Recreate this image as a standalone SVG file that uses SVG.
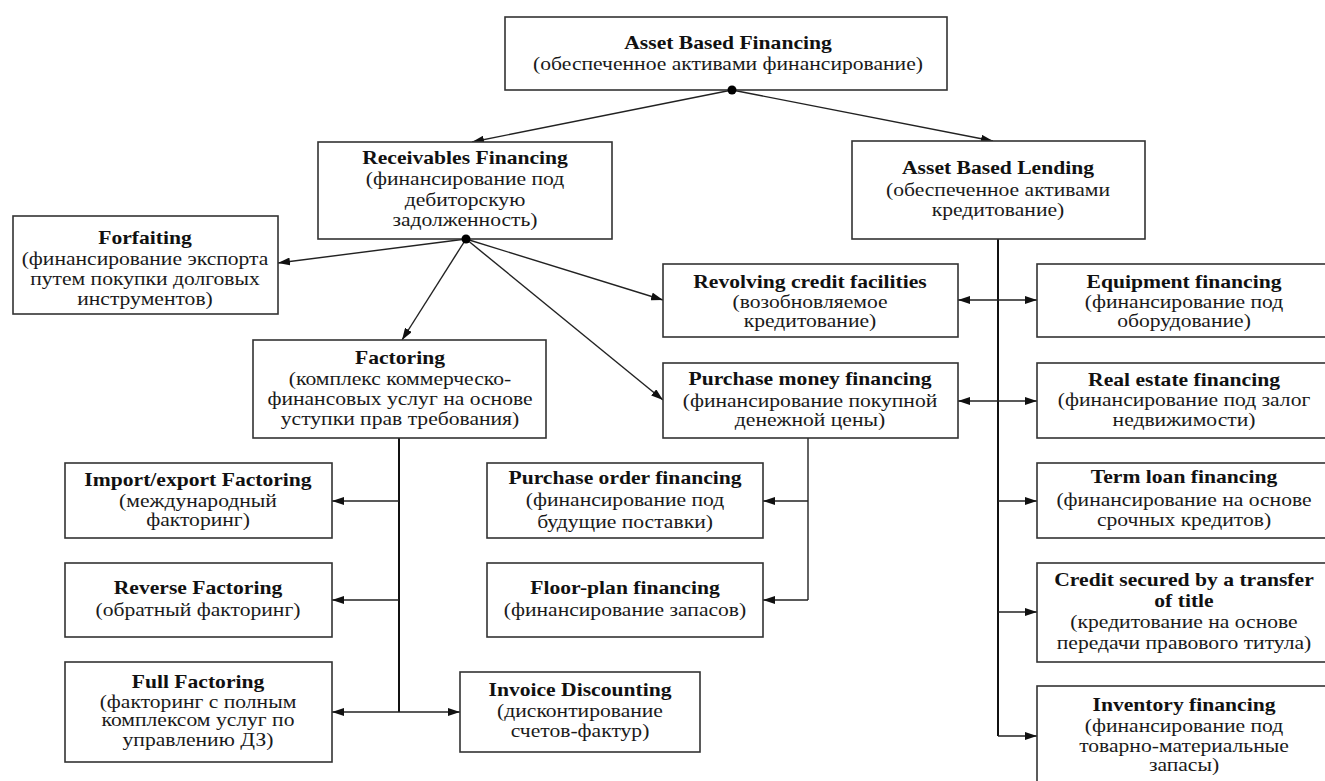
<svg xmlns="http://www.w3.org/2000/svg" width="1325" height="781" viewBox="0 0 1325 781">
<style>
.box{fill:#fff;stroke:#333;stroke-width:1.6}
.t{font-family:"Liberation Serif","Times New Roman",serif;font-size:18px;text-anchor:middle;fill:#1a1a1a}
.b{font-weight:bold;fill:#111}
.c{stroke:#222;stroke-width:1.4;fill:none}
.v{stroke:#111;stroke-width:2;fill:none}
</style>
<defs>
<marker id="ah" viewBox="0 0 12 8" refX="12" refY="4" markerWidth="12" markerHeight="8" orient="auto-start-reverse" markerUnits="userSpaceOnUse"><path d="M0,0 L12,4 L0,8 z" fill="#111"/></marker>
</defs>
<rect width="1325" height="781" fill="#fff"/>

<g id="connectors">
<line class="c" x1="732" y1="90" x2="472" y2="142" marker-end="url(#ah)"/>
<line class="c" x1="732" y1="90" x2="993" y2="141" marker-end="url(#ah)"/>
<line class="c" x1="466" y1="239" x2="278" y2="263" marker-end="url(#ah)"/>
<line class="c" x1="466" y1="239" x2="402" y2="340" marker-end="url(#ah)"/>
<line class="c" x1="466" y1="239" x2="663" y2="300" marker-end="url(#ah)"/>
<line class="c" x1="466" y1="239" x2="663" y2="400" marker-end="url(#ah)"/>
<line class="v" x1="399" y1="438" x2="399" y2="712"/>
<line class="c" x1="399" y1="501" x2="332" y2="501" marker-end="url(#ah)"/>
<line class="c" x1="399" y1="600" x2="332" y2="600" marker-end="url(#ah)"/>
<line class="c" x1="399" y1="712" x2="332" y2="712" marker-end="url(#ah)"/>
<line class="c" x1="399" y1="712" x2="460" y2="712" marker-end="url(#ah)"/>
<line class="c" x1="808" y1="438" x2="808" y2="600"/>
<line class="c" x1="808" y1="501" x2="763" y2="501" marker-end="url(#ah)"/>
<line class="c" x1="808" y1="600" x2="763" y2="600" marker-end="url(#ah)"/>
<line class="v" x1="998" y1="239" x2="998" y2="736"/>
<line class="c" x1="958" y1="300" x2="1037" y2="300" marker-start="url(#ah)" marker-end="url(#ah)"/>
<line class="c" x1="958" y1="401" x2="1037" y2="401" marker-start="url(#ah)" marker-end="url(#ah)"/>
<line class="c" x1="998" y1="501" x2="1037" y2="501" marker-end="url(#ah)"/>
<line class="c" x1="998" y1="612" x2="1037" y2="612" marker-end="url(#ah)"/>
<line class="c" x1="998" y1="736" x2="1037" y2="736" marker-end="url(#ah)"/>
</g>

<g id="abf">
<rect class="box" x="505" y="17" width="442" height="73"/>
<g transform="translate(728 0) scale(1.2 1)">
<text class="t b" x="0" y="49">Asset Based Financing</text>
<text class="t" x="0" y="70">(обеспеченное активами финансирование)</text>
</g>
<circle cx="732" cy="90" r="4.5" fill="#000"/>
</g>

<g id="rf">
<rect class="box" x="318" y="142" width="294" height="97"/>
<g transform="translate(465 0) scale(1.2 1)">
<text class="t b" x="0" y="164">Receivables Financing</text>
<text class="t" x="0" y="185">(финансирование под</text>
<text class="t" x="0" y="206">дебиторскую</text>
<text class="t" x="0" y="226">задолженность)</text>
</g>
<circle cx="466" cy="239" r="4.5" fill="#000"/>
</g>

<g id="abl">
<rect class="box" x="852" y="141" width="293" height="98"/>
<g transform="translate(998 0) scale(1.2 1)">
<text class="t b" x="0" y="174">Asset Based Lending</text>
<text class="t" x="0" y="196">(обеспеченное активами</text>
<text class="t" x="0" y="216">кредитование)</text>
</g>
</g>

<g id="forfaiting">
<rect class="box" x="13" y="216" width="265" height="98"/>
<g transform="translate(145 0) scale(1.2 1)">
<text class="t b" x="0" y="244">Forfaiting</text>
<text class="t" x="0" y="265">(финансирование экспорта</text>
<text class="t" x="0" y="285">путем покупки долговых</text>
<text class="t" x="0" y="305">инструментов)</text>
</g>
</g>

<g id="factoring">
<rect class="box" x="253" y="340" width="293" height="98"/>
<g transform="translate(400 0) scale(1.2 1)">
<text class="t b" x="0" y="364">Factoring</text>
<text class="t" x="0" y="385">(комплекс коммерческо-</text>
<text class="t" x="0" y="405">финансовых услуг на основе</text>
<text class="t" x="0" y="425">уступки прав требования)</text>
</g>
</g>

<g id="revolving">
<rect class="box" x="663" y="264" width="295" height="73"/>
<g transform="translate(810 0) scale(1.2 1)">
<text class="t b" x="0" y="288">Revolving credit facilities</text>
<text class="t" x="0" y="308">(возобновляемое</text>
<text class="t" x="0" y="327">кредитование)</text>
</g>
</g>

<g id="purchase-money">
<rect class="box" x="663" y="363" width="295" height="75"/>
<g transform="translate(810 0) scale(1.2 1)">
<text class="t b" x="0" y="385">Purchase money financing</text>
<text class="t" x="0" y="407">(финансирование покупной</text>
<text class="t" x="0" y="426">денежной цены)</text>
</g>
</g>

<g id="equipment">
<rect class="box" x="1037" y="264" width="294" height="73"/>
<g transform="translate(1184 0) scale(1.2 1)">
<text class="t b" x="0" y="288">Equipment financing</text>
<text class="t" x="0" y="308">(финансирование под</text>
<text class="t" x="0" y="327">оборудование)</text>
</g>
</g>

<g id="real-estate">
<rect class="box" x="1037" y="363" width="294" height="75"/>
<g transform="translate(1184 0) scale(1.2 1)">
<text class="t b" x="0" y="386">Real estate financing</text>
<text class="t" x="0" y="406">(финансирование под залог</text>
<text class="t" x="0" y="426">недвижимости)</text>
</g>
</g>

<g id="import-export">
<rect class="box" x="65" y="463" width="267" height="75"/>
<g transform="translate(198 0) scale(1.2 1)">
<text class="t b" x="0" y="486">Import/export Factoring</text>
<text class="t" x="0" y="507">(международный</text>
<text class="t" x="0" y="526">факторинг)</text>
</g>
</g>

<g id="purchase-order">
<rect class="box" x="487" y="463" width="276" height="75"/>
<g transform="translate(625 0) scale(1.2 1)">
<text class="t b" x="0" y="484">Purchase order financing</text>
<text class="t" x="0" y="506">(финансирование под</text>
<text class="t" x="0" y="528">будущие поставки)</text>
</g>
</g>

<g id="term-loan">
<rect class="box" x="1037" y="463" width="294" height="75"/>
<g transform="translate(1184 0) scale(1.2 1)">
<text class="t b" x="0" y="483">Term loan financing</text>
<text class="t" x="0" y="506">(финансирование на основе</text>
<text class="t" x="0" y="526">срочных кредитов)</text>
</g>
</g>

<g id="reverse">
<rect class="box" x="65" y="563" width="267" height="74"/>
<g transform="translate(198 0) scale(1.2 1)">
<text class="t b" x="0" y="594">Reverse Factoring</text>
<text class="t" x="0" y="616">(обратный факторинг)</text>
</g>
</g>

<g id="floor-plan">
<rect class="box" x="487" y="563" width="276" height="74"/>
<g transform="translate(625 0) scale(1.2 1)">
<text class="t b" x="0" y="594">Floor-plan financing</text>
<text class="t" x="0" y="616">(финансирование запасов)</text>
</g>
</g>

<g id="credit-secured">
<rect class="box" x="1037" y="563" width="294" height="99"/>
<g transform="translate(1184 0) scale(1.2 1)">
<text class="t b" x="0" y="586">Credit secured by a transfer</text>
<text class="t b" x="0" y="607">of title</text>
<text class="t" x="0" y="628">(кредитование на основе</text>
<text class="t" x="0" y="649">передачи правового титула)</text>
</g>
</g>

<g id="full-factoring">
<rect class="box" x="65" y="662" width="267" height="100"/>
<g transform="translate(198 0) scale(1.2 1)">
<text class="t b" x="0" y="688">Full Factoring</text>
<text class="t" x="0" y="708">(факторинг с полным</text>
<text class="t" x="0" y="726">комплексом услуг по</text>
<text class="t" x="0" y="746">управлению ДЗ)</text>
</g>
</g>

<g id="invoice">
<rect class="box" x="460" y="672" width="240" height="80"/>
<g transform="translate(580 0) scale(1.2 1)">
<text class="t b" x="0" y="696">Invoice Discounting</text>
<text class="t" x="0" y="717">(дисконтирование</text>
<text class="t" x="0" y="737">счетов-фактур)</text>
</g>
</g>

<g id="inventory">
<rect class="box" x="1037" y="686" width="294" height="110"/>
<g transform="translate(1184 0) scale(1.2 1)">
<text class="t b" x="0" y="711">Inventory financing</text>
<text class="t" x="0" y="732">(финансирование под</text>
<text class="t" x="0" y="752">товарно-материальные</text>
<text class="t" x="0" y="771">запасы)</text>
</g>
</g>
</svg>
